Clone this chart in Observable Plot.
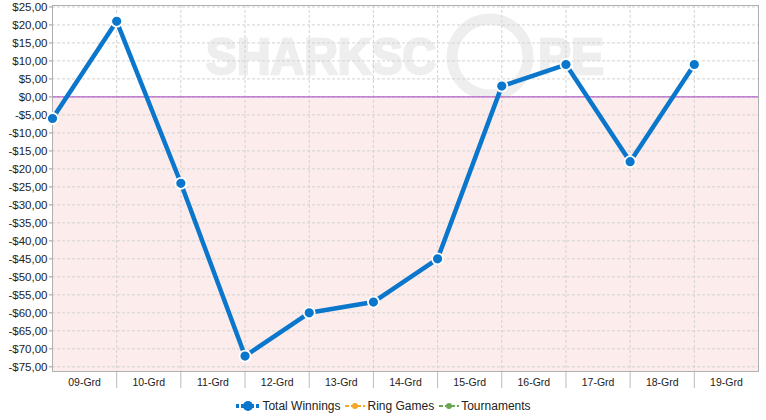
<!DOCTYPE html>
<html><head><meta charset="utf-8">
<script src="https://cdn.jsdelivr.net/npm/d3@7"></script>
<script src="https://cdn.jsdelivr.net/npm/@observablehq/plot@0.6"></script>
<style>
body{margin:0;background:#fff;font-family:"Liberation Sans",Arial,sans-serif;}
#wrap{position:relative;width:766px;height:420px;overflow:hidden;}
#wm{position:absolute;left:0;top:0;}
#wm text{font-family:"Liberation Sans",Arial,sans-serif;font-weight:bold;font-size:50px;fill:#eeeeee;stroke:#eeeeee;stroke-width:2.5px;}
#chart{position:absolute;left:0;top:0;}
#legend{position:absolute;left:0;top:399px;width:766px;display:flex;justify-content:center;font-size:12px;color:#222;}
.item{display:flex;align-items:center;margin:0 2px;}
</style></head><body>
<div id="wrap">
<svg id="wm" width="766" height="130">
  <text x="206" y="74" textLength="230" lengthAdjust="spacingAndGlyphs">SHARKSC</text>
  <circle cx="490" cy="57" r="38" fill="none" stroke="#eeeeee" stroke-width="11"/>
  <text x="538" y="74" textLength="66" lengthAdjust="spacingAndGlyphs">PE</text>
</svg>
<div id="chart"></div>
<div id="legend"></div>
</div>
<script>
const categories = ["09-Grd","10-Grd","11-Grd","12-Grd","13-Grd","14-Grd","15-Grd","16-Grd","17-Grd","18-Grd","19-Grd"];
const totalWinnings = [-6, 21, -24, -72, -60, -57, -45, 3, 9, -18, 9];
const yTicks = [-75,-70,-65,-60,-55,-50,-45,-40,-35,-30,-25,-20,-15,-10,-5,0,5,10,15,20,25];
const yDomain = [-76.3, 25.4];
const seriesNames = ["Total Winnings","Ring Games","Tournaments"];
const seriesColors = ["#0a77cc","#f5a623","#6aa84f"];

const n = categories.length;
const data = totalWinnings.map((v, i) => ({i, v}));
const boundaries = d3.range(1, n);
const centers = d3.range(0, n).map(i => i + 0.5);
const fmt = v => (v < 0 ? "-$" : "$") + Math.abs(v).toFixed(2).replace(".", ",");

const chart = Plot.plot({
  width: 766, height: 395,
  marginLeft: 52, marginRight: 8, marginTop: 5, marginBottom: 24,
  style: {background: "transparent", fontFamily: "Liberation Sans, Arial, sans-serif", fontSize: "11px", color: "#222", overflow: "visible"},
  x: {type: "linear", domain: [0, n]},
  y: {domain: yDomain},
  marks: [
    Plot.rect([0], {x1: 0, x2: n, y1: yDomain[0], y2: 0, fill: "#fdecec"}),
    Plot.gridY(yTicks, {stroke: "#d2d2d2", strokeOpacity: 1, strokeDasharray: "3,2"}),
    Plot.gridX(boundaries, {stroke: "#d2d2d2", strokeOpacity: 1, strokeDasharray: "3,2"}),
    Plot.ruleY([0], {stroke: "#a040c0", strokeWidth: 1}),
    Plot.frame({stroke: "#b0b0b0"}),
    Plot.axisY(yTicks, {tickFormat: fmt, tickSize: 3, tickPadding: 2, stroke: "#999", fontSize: 11.5, label: null}),
    Plot.axisX(boundaries, {tickSize: 17, tickFormat: () => "", stroke: "#bbb", label: null}),
    Plot.axisX(centers, {tickSize: 0, tickPadding: 7, tickFormat: d => categories[Math.floor(d)], fontSize: 10.5, letterSpacing: "0.6px", label: null}),
    Plot.line(data, {x: "i", y: "v", stroke: seriesColors[0], strokeWidth: 4.5}),
    Plot.dot(data, {x: "i", y: "v", r: 5.5, fill: seriesColors[0], stroke: "white", strokeWidth: 1.8})
  ]
});
document.getElementById("chart").append(chart);

const legend = document.getElementById("legend");
seriesNames.forEach((name, k) => {
  const big = k === 0;
  const item = document.createElement("div");
  item.className = "item";
  item.innerHTML = `<svg width="${big ? 26 : 22}" height="14"><line x1="1" x2="${big ? 25 : 21}" y1="7" y2="7" stroke="${seriesColors[k]}" stroke-width="${big ? 4 : 2}" stroke-dasharray="${big ? "3,2" : "4,2"}"/><circle cx="${big ? 13 : 11}" cy="7" r="${big ? 5 : 3}" fill="${seriesColors[k]}"/></svg><span style="margin-left:1px">${name}</span>`;
  legend.append(item);
});
</script>
</body></html>
